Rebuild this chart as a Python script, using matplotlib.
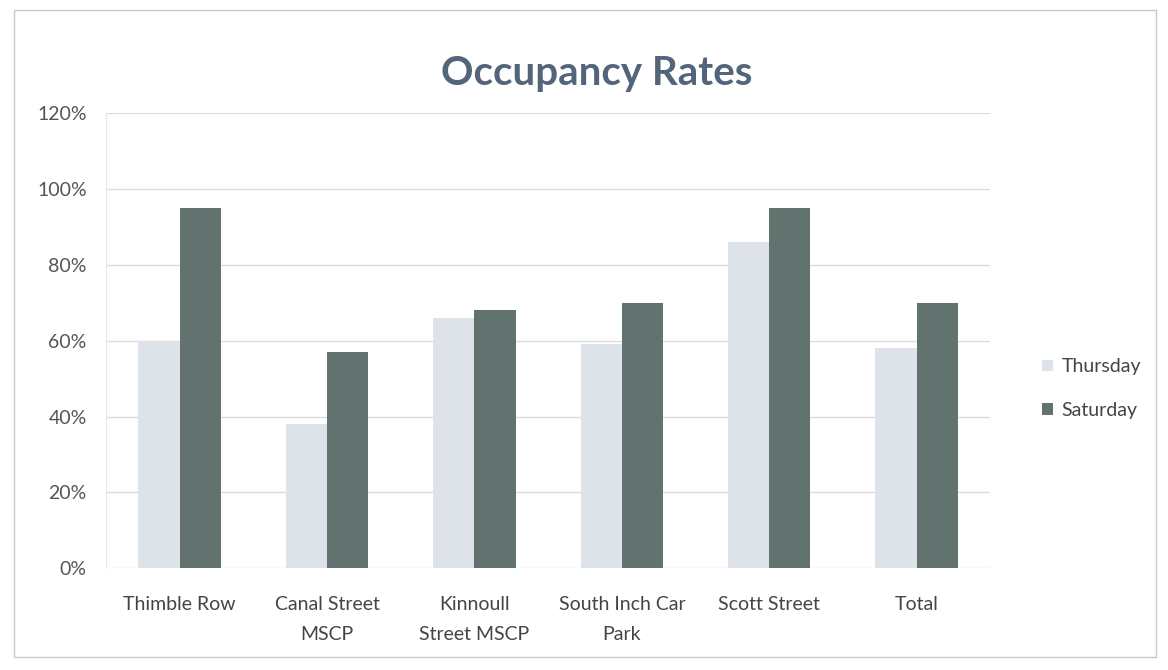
import matplotlib
matplotlib.use("Agg")
import matplotlib.pyplot as plt
from matplotlib.patches import Rectangle
import numpy as np

categories = ["Thimble Row", "Canal Street\nMSCP", "Kinnoull\nStreet MSCP",
              "South Inch Car\nPark", "Scott Street", "Total"]
thursday = [60, 38, 66, 59, 86, 58]
saturday = [95, 57, 68, 70, 95, 70]
yticks = [0, 20, 40, 60, 80, 100, 120]
ytick_labels = ["0%", "20%", "40%", "60%", "80%", "100%", "120%"]

plt.rcParams['font.family'] = ['Lato', 'DejaVu Sans']

fig = plt.figure(figsize=(11.68, 6.70), dpi=100)
fig.patch.set_facecolor("white")
ax = fig.add_axes([0.0908, 0.152, 0.757, 0.679])

x = np.arange(len(categories))
w = 0.28
c_thu = "#dde3e8"
c_sat = "#62736f"
ax.bar(x - w/2, thursday, w, color=c_thu, label="Thursday", zorder=2)
ax.bar(x + w/2, saturday, w, color=c_sat, label="Saturday", zorder=2)

ax.set_ylim(0, 120)
ax.set_xlim(-0.5, len(categories) - 0.5)
ax.set_yticks(yticks)
ax.set_yticklabels(ytick_labels, color="#555555", fontsize=14)
ax.set_xticks(x)
ax.set_xticklabels(categories, color="#444444", fontsize=14, linespacing=1.95)
ax.tick_params(axis="x", length=0, pad=20)
ax.tick_params(axis="y", length=0, pad=14)
ax.grid(axis="y", color="#dcdcdc", linewidth=1, zorder=0)
for s in ax.spines.values():
    s.set_visible(False)
ax.spines["left"].set_visible(True)
ax.spines["left"].set_color("#e6e6e6")

fig.text(0.511, 0.89, "Occupancy Rates", ha="center", va="center",
         fontsize=29, fontweight="bold", color="#52657a")

leg = fig.legend(loc="center left", bbox_to_anchor=(0.877, 0.42), frameon=False,
                 fontsize=14, handlelength=0.55, handleheight=0.55,
                 labelspacing=1.35, handletextpad=0.45)
for t in leg.get_texts():
    t.set_color("#444444")

fig.patches.append(Rectangle((0.012, 0.02), 0.978, 0.965, transform=fig.transFigure,
                             fill=False, edgecolor="#c8c8c8", linewidth=1))

fig.savefig("out.png", dpi=100, facecolor="white")
